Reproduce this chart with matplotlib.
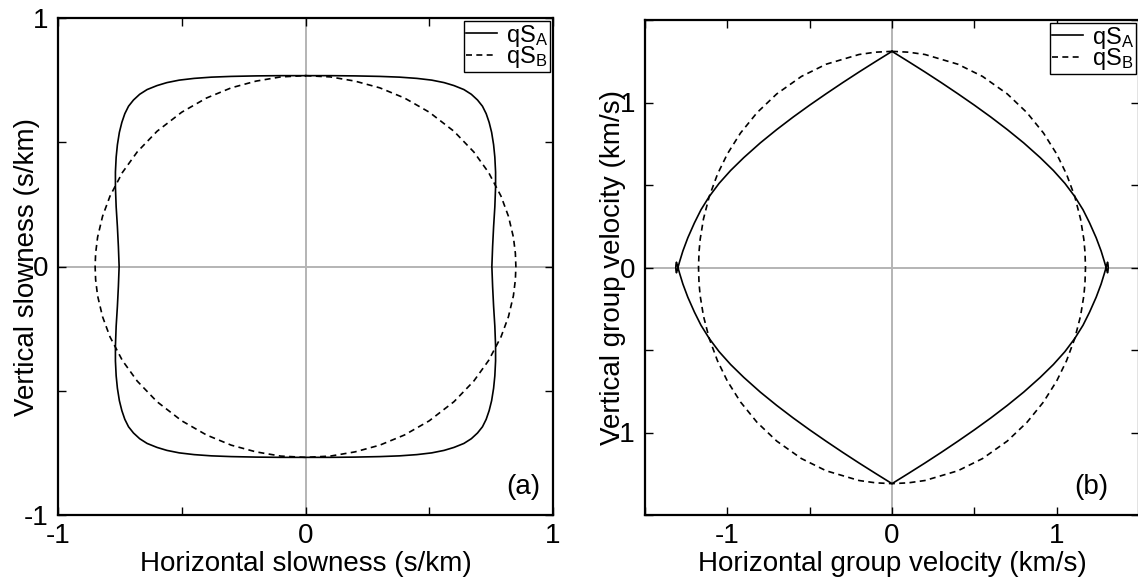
import numpy as np
import matplotlib
matplotlib.use("Agg")
import matplotlib.pyplot as plt
from matplotlib.lines import Line2D

plt.rcParams['font.family'] = ['Liberation Sans', 'DejaVu Sans']
plt.rcParams['mathtext.fontset'] = 'custom'
plt.rcParams['mathtext.rm'] = 'Liberation Sans'
plt.rcParams['mathtext.it'] = 'Liberation Sans:italic'

# ---- data: first-quadrant points (mirrored by symmetry) ----
# (a) slowness curves, s/km
slow_A_px = [0.0, 0.10, 0.20, 0.30, 0.38, 0.45, 0.51, 0.56, 0.60, 0.64, 0.67, 0.695,
             0.715, 0.73, 0.742, 0.752, 0.760, 0.765, 0.768, 0.768, 0.765, 0.760, 0.756, 0.753]
slow_A_pz = [0.768, 0.768, 0.767, 0.765, 0.762, 0.757, 0.750, 0.740, 0.728, 0.712, 0.693, 0.670,
             0.645, 0.615, 0.580, 0.540, 0.490, 0.440, 0.380, 0.320, 0.240, 0.160, 0.080, 0.0]
slow_B_px = [0.0, 0.10, 0.20, 0.30, 0.40, 0.50, 0.60, 0.68, 0.74, 0.79, 0.82, 0.84, 0.848, 0.85]
slow_B_pz = [0.768, 0.763, 0.746, 0.719, 0.678, 0.621, 0.544, 0.461, 0.378, 0.283, 0.202, 0.118, 0.053, 0.0]

# (b) group velocity curves, km/s
grp_A_vx = [0.0, 0.10, 0.20, 0.30, 0.40, 0.50, 0.60, 0.70, 0.80, 0.90, 0.98, 1.05, 1.11,
            1.16, 1.20, 1.24, 1.27, 1.29, 1.300, 1.309, 1.312, 1.313]
grp_A_vz = [1.31, 1.248, 1.185, 1.12, 1.053, 0.984, 0.912, 0.836, 0.755, 0.666, 0.588, 0.51, 0.43,
            0.35, 0.27, 0.18, 0.10, 0.035, 0.0, -0.032, -0.016, 0.0]
grp_B_vx = [0.0, 0.10, 0.20, 0.40, 0.55, 0.70, 0.82, 0.92, 1.00, 1.06, 1.11, 1.145, 1.165, 1.172, 1.175]
grp_B_vz = [1.31, 1.305, 1.291, 1.232, 1.158, 1.052, 0.938, 0.815, 0.688, 0.565, 0.430, 0.294, 0.171, 0.094, 0.0]

labels = ['qS$_{\\rm A}$', 'qS$_{\\rm B}$']
panel_tags = ['(a)', '(b)']
xlabels = ['Horizontal slowness (s/km)', 'Horizontal group velocity (km/s)']
ylabels = ['Vertical slowness (s/km)', 'Vertical group velocity (km/s)']
ticks_a = [-1, -0.5, 0, 0.5, 1]
ticks_b = [-1.5, -1, -0.5, 0, 0.5, 1, 1.5]


def mirror(x, y):
    x = np.asarray(x, float)
    y = np.asarray(y, float)
    q1x, q1y = x, y
    q4x, q4y = x[::-1], -y[::-1]
    q3x, q3y = -x, -y
    q2x, q2y = -x[::-1], y[::-1]
    return (np.concatenate([q1x, q4x, q3x, q2x]),
            np.concatenate([q1y, q4y, q3y, q2y]))


W, H = 1138, 579
fig = plt.figure(figsize=(W / 100, H / 100), dpi=100)

ax1 = fig.add_axes([58 / W, 1 - 515 / H, 495 / W, 497 / H])
ax2 = fig.add_axes([645 / W, 1 - 515 / H, 494 / W, 495 / H])

grey = '#b4b4b4'
lw = 1.2
dash = (3.6, 2.6)

for ax, (xa, ya), (xb, yb), lim, ticks in [
        (ax1, (slow_A_px, slow_A_pz), (slow_B_px, slow_B_pz), 1.0, ticks_a),
        (ax2, (grp_A_vx, grp_A_vz), (grp_B_vx, grp_B_vz), 1.5, ticks_b)]:
    ax.axhline(0, color=grey, lw=1.4, zorder=1)
    ax.axvline(0, color=grey, lw=1.4, zorder=1)
    X, Y = mirror(xa, ya)
    ax.plot(X, Y, color='black', lw=lw, zorder=3)
    X, Y = mirror(xb, yb)
    ax.plot(X, Y, color='black', lw=lw, ls=(0, dash), zorder=3)
    ax.set_xlim(-lim, lim)
    ax.set_ylim(-lim, lim)
    ax.set_xticks(ticks)
    ax.set_yticks(ticks)
    tl = ['-1' if t == -1 else '0' if t == 0 else '1' if t == 1 else '' for t in ticks]
    ax.set_xticklabels(tl)
    ax.set_yticklabels(tl)
    ax.tick_params(direction='in', length=6, width=1.0, top=True, right=True,
                   labelsize=20)
    ax.tick_params(axis='x', pad=6)
    ax.tick_params(axis='y', pad=7)
    for s in ax.spines.values():
        s.set_linewidth(1.6)

handles = [Line2D([], [], color='black', lw=lw),
           Line2D([], [], color='black', lw=lw, ls=(0, dash))]

for ax, tag, tagx, xl, yl, ylp in zip([ax1, ax2], panel_tags, [0.975, 0.937],
                                      xlabels, ylabels, [-12, -11]):
    leg = ax.legend(handles, labels, loc='upper right', fontsize=17, frameon=True,
                    fancybox=False, framealpha=1, edgecolor='black',
                    borderaxespad=0.12, borderpad=0.08, labelspacing=-0.2,
                    handlelength=1.3, handletextpad=0.4)
    leg.get_frame().set_linewidth(1.0)
    ax.text(tagx, 0.03, tag, transform=ax.transAxes, ha='right', va='bottom', fontsize=20)
    ax.set_xlabel(xl, fontsize=20, labelpad=1)
    ax.set_ylabel(yl, fontsize=20, labelpad=ylp)

fig.savefig('out.png', dpi=100)
